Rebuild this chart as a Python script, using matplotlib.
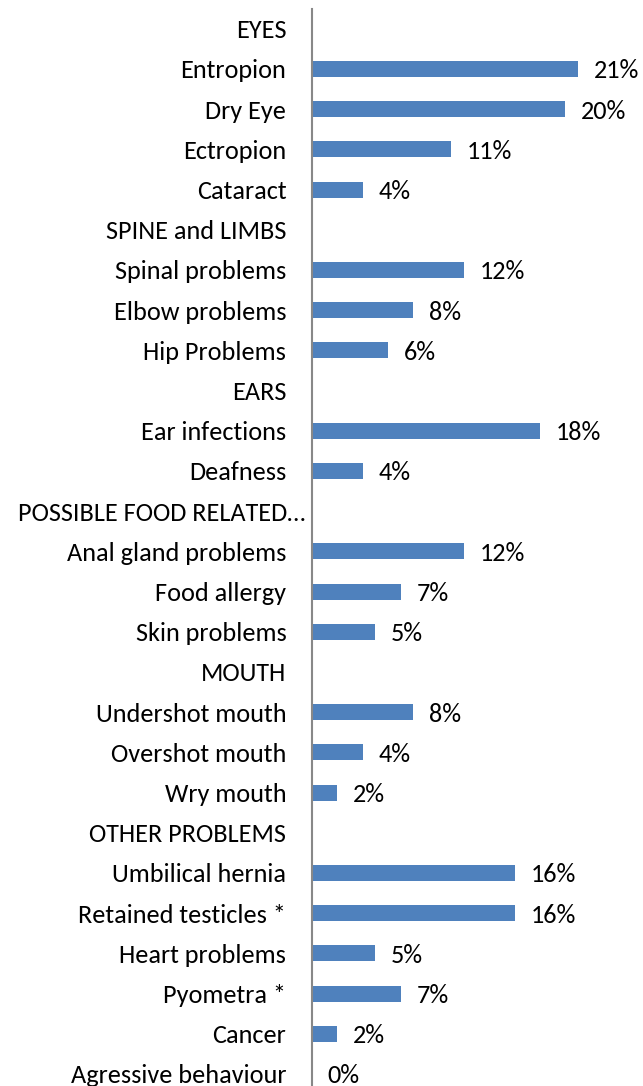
import matplotlib
matplotlib.use("Agg")
import matplotlib.pyplot as plt
from matplotlib.transforms import ScaledTranslation

categories = [
    "EYES", "Entropion", "Dry Eye", "Ectropion", "Cataract",
    "SPINE and LIMBS", "Spinal problems", "Elbow problems", "Hip Problems",
    "EARS", "Ear infections", "Deafness",
    "POSSIBLE FOOD RELATED…", "Anal gland problems", "Food allergy", "Skin problems",
    "MOUTH", "Undershot mouth", "Overshot mouth", "Wry mouth",
    "OTHER PROBLEMS", "Umbilical hernia", "Retained testicles *", "Heart problems",
    "Pyometra *", "Cancer", "Agressive behaviour",
]
# None = section header (no bar, no label)
values = [
    None, 21, 20, 11, 4,
    None, 12, 8, 6,
    None, 18, 4,
    None, 12, 7, 5,
    None, 8, 4, 2,
    None, 16, 16, 5,
    7, 2, 0,
]

plt.rcParams['font.family'] = ['Carlito', 'DejaVu Sans']
FS = 18.9

fig = plt.figure(figsize=(6.43, 10.86), dpi=100)
top_px, bottom_px = 8.7, 1086
ax = fig.add_axes([312/643, 0.0, (628.7-312)/643, 1 - top_px/1086])

ys = list(range(len(categories)))
for y, v in zip(ys, values):
    if v is None:
        continue
    ax.barh(y, v, height=0.4, color="#4F81BD")
    ax.text(v + 1.25, y, f"{v}%", va="center_baseline", ha="left", fontsize=FS, color="#000000")

ax.set_xlim(0, 25)
ax.set_ylim(26.3, -0.5)
ax.set_yticks(ys)
ax.set_yticklabels(categories, fontsize=FS)
ax.tick_params(axis="y", length=0, pad=18.5)
ax.set_xticks([])
for s in ["top", "right", "bottom"]:
    ax.spines[s].set_visible(False)
ax.spines["left"].set_color("#888888")
ax.spines["left"].set_linewidth(1.5)

for lab in ax.get_yticklabels():
    if lab.get_text().startswith("POSSIBLE"):
        lab.set_transform(lab.get_transform() + ScaledTranslation(19/100, 0, fig.dpi_scale_trans))

fig.savefig("out.png", dpi=100)
